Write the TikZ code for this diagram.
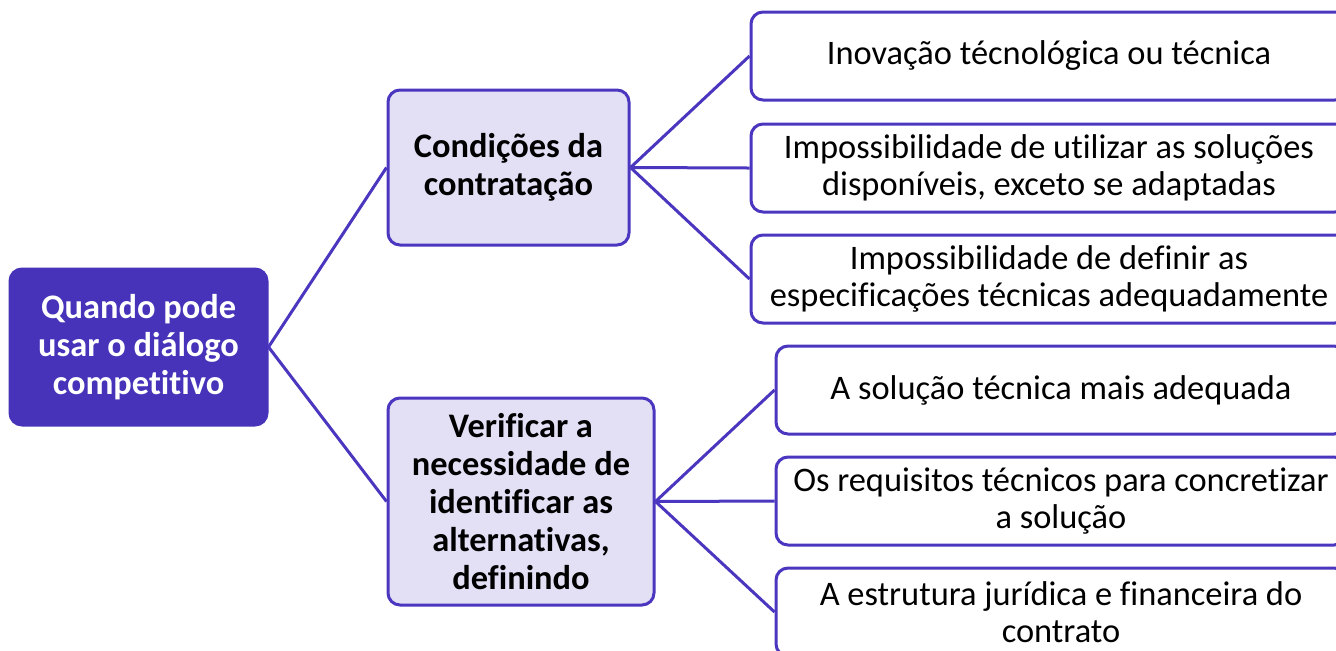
\documentclass[tikz,border=0pt]{standalone}
\usepackage{fontspec}
\setmainfont{Carlito}[Ligatures={NoCommon}]
\definecolor{roxo}{HTML}{4633B9}
\definecolor{linha}{HTML}{4B36C0}
\definecolor{lilas}{HTML}{E3DFF5}
\tikzset{
  raiz/.style={draw=roxo, fill=roxo, text=white, line width=1.5pt, rounded corners=6pt,
    align=center, font=\fontsize{17.2}{19}\selectfont\bfseries, inner sep=0pt},
  ramo/.style={draw=linha, fill=lilas, line width=1.5pt, rounded corners=6pt,
    align=center, font=\fontsize{17.2}{19}\selectfont\bfseries, inner sep=0pt},
  folha/.style={draw=linha, fill=white, line width=1.5pt, rounded corners=6pt,
    align=center, font=\fontsize{17.2}{18.6}\selectfont, inner sep=0pt,
    minimum height=44pt},
  liga/.style={draw=linha, line width=1.5pt},
}
\begin{document}
\begin{tikzpicture}[x=0.5pt, y=-0.5pt]
	\path[use as bounding box, fill=white] (0,0) rectangle (1336,650);
	\clip (0,0) rectangle (1336,650);
	% raiz e ramos
	\node[raiz, minimum width=128.5pt, minimum height=78pt] (quando) at (138.5,347)
		{Quando pode\\usar o diálogo\\competitivo};
	\node[ramo, minimum width=120.5pt, minimum height=77.5pt] (cond) at (508.5,167.5)
		{Condições da\\contratação};
	\node[ramo, minimum width=133pt, minimum height=103.5pt] (verif) at (521,501.5)
		{Verificar a\\necessidade de\\identificar as\\alternativas,\\definindo};
	% folhas
	\node[folha, minimum width=298pt] (inov) at (1049,56) {Inovação técnológica ou técnica};
	\node[folha, minimum width=298pt] (util) at (1049,168)
		{Impossibilidade de utilizar as soluções\\disponíveis, exceto se adaptadas};
	\node[folha, minimum width=298pt] (defin) at (1049,279)
		{Impossibilidade de definir as\\especificações técnicas adequadamente};
	\node[folha, minimum width=285pt] (sol) at (1061,390) {A solução técnica mais adequada};
	\node[folha, minimum width=285pt] (req) at (1061,501)
		{Os requisitos técnicos para concretizar\\a solução};
	\node[folha, minimum width=285pt] (estr) at (1061,612)
		{A estrutura jurídica e financeira do\\contrato};
	% ligacoes
	\draw[liga] (quando.east) -- (cond.west);
	\draw[liga] (quando.east) -- (verif.west);
	\foreach \f in {inov, util, defin} \draw[liga] (cond.east) -- (\f.west);
	\foreach \f in {sol, req, estr} \draw[liga] (verif.east) -- (\f.west);
\end{tikzpicture}
\end{document}
